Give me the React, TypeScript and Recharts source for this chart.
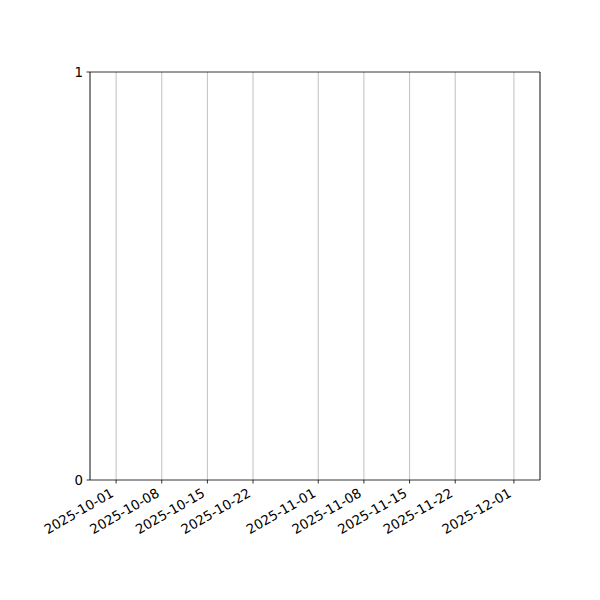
import React from 'react';
import { ComposedChart, Line, XAxis, YAxis, CartesianGrid, ReferenceLine } from 'recharts';

const DAY = 86400000;
const toDay = (y: number, m: number, d: number) => Date.UTC(y, m - 1, d) / DAY;

// tick dates shown on the x axis
const tickDates = [
  '2025-10-01', '2025-10-08', '2025-10-15', '2025-10-22',
  '2025-11-01', '2025-11-08', '2025-11-15', '2025-11-22', '2025-12-01',
];
const xStart = '2025-09-27';
const xEnd = '2025-12-05';
const yTicks = [0, 1];

// the chart holds no drawn values
const seriesValues: (number | null)[] = tickDates.map(() => null);

const parse = (s: string) => {
  const [y, m, d] = s.split('-').map(Number);
  return toDay(y, m, d);
};
const fmt = (v: number) => new Date(v * DAY).toISOString().slice(0, 10);

const xTicks = tickDates.map(parse);
const data = tickDates.map((d, i) => ({ t: parse(d), v: seriesValues[i] }));

const font = '"DejaVu Sans", sans-serif';

const DateTick = (props: any) => {
  const { x, y, payload } = props;
  // right end of the rotated label sits just under the tick, like matplotlib's autofmt_xdate
  return (
    <g transform={`translate(${x - 1.5},${y + 8.8}) rotate(-30)`}>
      <text x={0} y={0} textAnchor="end" fontSize={13.3} fill="#000" fontFamily={font}>
        {fmt(payload.value)}
      </text>
    </g>
  );
};

export default function App() {
  const lo = parse(xStart);
  const hi = parse(xEnd);
  return (
    <div style={{ position: 'absolute', left: 0, top: 0, width: 600, height: 600, background: '#fff' }}>
      <ComposedChart width={600} height={600} data={data} margin={{ top: 72, right: 60, bottom: 0, left: 0 }}>
        <CartesianGrid horizontal={false} stroke="#b0b0b0" strokeWidth={0.8} />
        <XAxis
          dataKey="t"
          type="number"
          domain={[lo, hi]}
          ticks={xTicks}
          interval={0}
          height={120}
          tick={<DateTick />}
          tickSize={3.5}
          tickMargin={3.5}
          stroke="#000"
          strokeWidth={0.8}
          tickLine={{ stroke: '#000', strokeWidth: 0.8 }}
          allowDataOverflow
        />
        <YAxis
          dataKey="v"
          type="number"
          domain={[0, 1]}
          ticks={yTicks}
          interval={0}
          width={90}
          tickSize={3.5}
          tickMargin={3.5}
          stroke="#000"
          strokeWidth={0.8}
          tick={{ fill: '#000', fontSize: 13.3, fontFamily: font }}
          tickLine={{ stroke: '#000', strokeWidth: 0.8 }}
          allowDataOverflow
        />
        <ReferenceLine y={1} stroke="#000" strokeWidth={0.8} />
        <ReferenceLine x={hi} stroke="#000" strokeWidth={0.8} />
        <Line dataKey="v" stroke="#1f77b4" dot={false} isAnimationActive={false} />
      </ComposedChart>
    </div>
  );
}
